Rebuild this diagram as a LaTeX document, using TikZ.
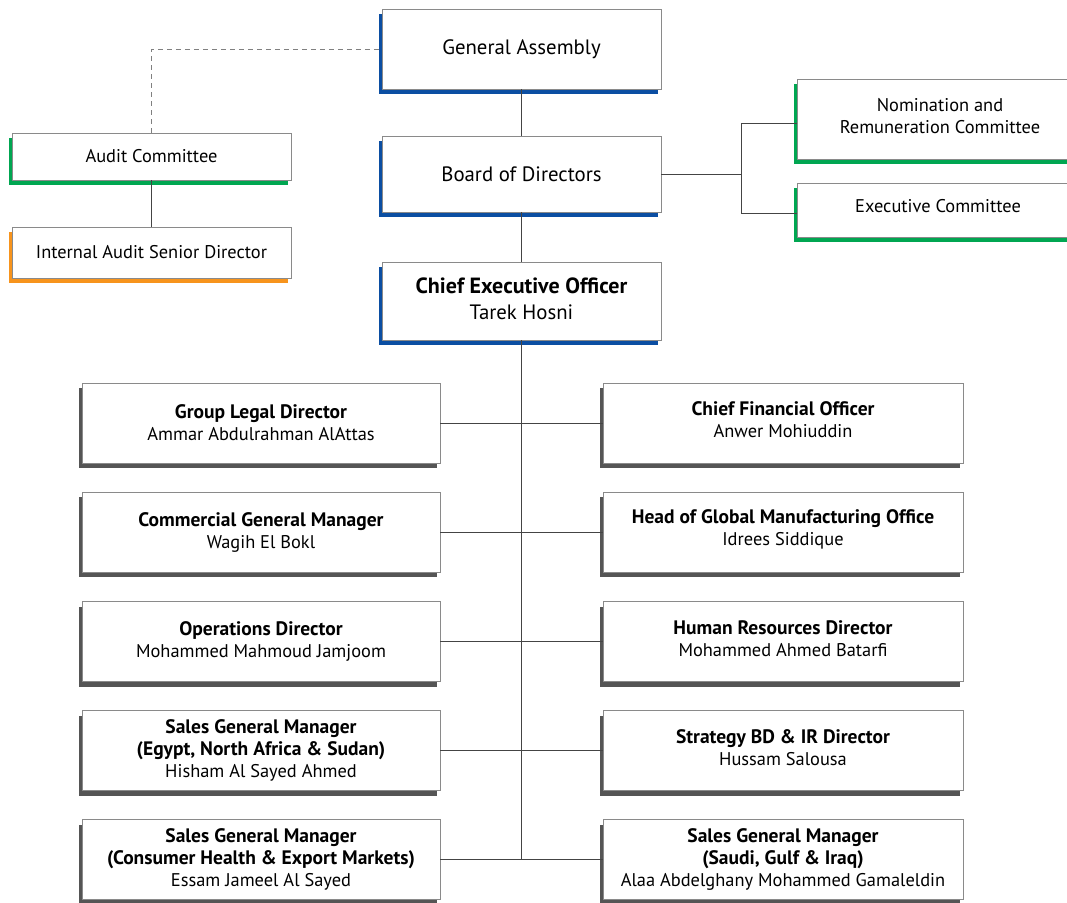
\documentclass[tikz,border=0pt]{standalone}
\usepackage{fontspec}
\setmainfont{PT Sans}
\usetikzlibrary{shadows}
\definecolor{cblue}{HTML}{0B4EA2}
\definecolor{cgreen}{HTML}{00A651}
\definecolor{corange}{HTML}{F7941D}
\definecolor{cgray}{HTML}{555555}
\definecolor{cborder}{HTML}{8A8A8A}
\definecolor{cline}{HTML}{444444}
\newcommand\bl[1]{{\fontsize{19.5}{22}\selectfont\bfseries #1}}
\newcommand\blbig[1]{{\fontsize{22}{26}\selectfont\bfseries #1}}
\tikzset{
  box/.style={draw=cborder, line width=0.9pt, fill=white, inner sep=0pt, align=center,
    text=black},
  sh/.style={general shadow={fill=#1, shadow xshift=-3.5pt, shadow yshift=-5pt}},
  big/.style={font=\fontsize{20.8}{26}\selectfont},
  small/.style={font=\fontsize{18.4}{22}\selectfont},
  txt/.style={small, align=center, inner sep=0pt},
  conn/.style={draw=cline, line width=0.9pt},
  pbox/.style={box, sh=cgray, small, minimum width=358pt, minimum height=80pt},
}
\begin{document}
\begin{tikzpicture}[x=1pt, y=-1pt]
\clip (0,0) rectangle (1067,902);
\fill[white] (0,0) rectangle (1067,902);
% top chain
\node[box, sh=cblue, big, minimum width=279pt, minimum height=80pt] (ga) at (521.5,49) {General Assembly};
\node[box, sh=cblue, big, minimum width=279pt, minimum height=76pt] (bod) at (521.5,174) {Board of Directors};
\node[box, sh=cblue, big, minimum width=279pt, minimum height=78pt] (ceo) at (521.5,301) {};
\node[txt, big] (ceot) at ([yshift=2pt]ceo.center) {\blbig{Chief Executive Officer}\\Tarek Hosni};
% audit
\node[box, sh=cgreen, small, minimum width=279pt, minimum height=47pt] (audit) at (151.5,156.5) {Audit Committee};
\node[box, sh=corange, small, minimum width=279pt, minimum height=51pt] (iad) at (151.5,252.5) {Internal Audit Senior Director};
% committees
\node[box, sh=cgreen, minimum width=280pt, minimum height=80pt] (nom) at (937,119) {};
\node[txt] (nomt) at (940,116) {Nomination and\\Remuneration Committee};
\node[box, sh=cgreen, minimum width=280pt, minimum height=54pt] (exe) at (937,210) {};
\node[txt] (exet) at (938,206.5) {Executive Committee};
% rows
\node[pbox] (l1) at (261,423) {\bl{Group Legal Director}\\Ammar Abdulrahman AlAttas};
\node[pbox, minimum width=360pt] (r1) at (783,423) {};
\node[txt] (r1t) at ([yshift=3pt]r1.center) {\bl{Chief Financial Officer}\\Anwer Mohiuddin};
\node[pbox] (l2) at (261,532) {\bl{Commercial General Manager}\\Wagih El Bokl};
\node[pbox, minimum width=360pt] (r2) at (783,532) {};
\node[txt] (r2t) at ([yshift=2.5pt]r2.center) {\bl{Head of Global Manufacturing Office}\\Idrees Siddique};
\node[pbox] (l3) at (261,641.5) {\bl{Operations Director}\\Mohammed Mahmoud Jamjoom};
\node[pbox, minimum width=360pt] (r3) at (783,641.5) {};
\node[txt] (r3t) at ([yshift=3pt]r3.center) {\bl{Human Resources Director}\\Mohammed Ahmed Batarfi};
\node[pbox] (l4) at (261,750.5) {\bl{Sales General Manager}\\\bl{(Egypt, North Africa \& Sudan)}\\Hisham Al Sayed Ahmed};
\node[pbox, minimum width=360pt] (r4) at (783,750.5) {};
\node[txt] (r4t) at ([yshift=3pt]r4.center) {\bl{Strategy BD \& IR Director}\\Hussam Salousa};
\node[pbox] (l5) at (261,859.5) {\bl{Sales General Manager}\\\bl{(Consumer Health \& Export Markets)}\\Essam Jameel Al Sayed};
\node[pbox, minimum width=360pt] (r5) at (783,859.5) {\bl{Sales General Manager}\\\bl{(Saudi, Gulf \& Iraq)}\\Alaa Abdelghany Mohammed Gamaleldin};
% connectors
\coordinate (spineend) at (521.5,859.5);
\coordinate (j) at (741,174);
\path[conn] (ga) -- (bod);
\path[conn] (bod) -- (ceo);
\path[conn] (ceo.south) -- (spineend);
\path[conn, dashed, dash pattern=on 5pt off 4pt, draw=gray] (audit.north) |- (ga.west);
\path[conn] (audit) -- (iad);
\path[conn] (bod.east) -- (j);
\path[conn] ([yshift=-4pt]nom.west) -| (j) |- ([yshift=-3pt]exe.west);
\foreach \i in {1,...,5}{\path[conn] (l\i.east) -- (r\i.west);}
\end{tikzpicture}
\end{document}
